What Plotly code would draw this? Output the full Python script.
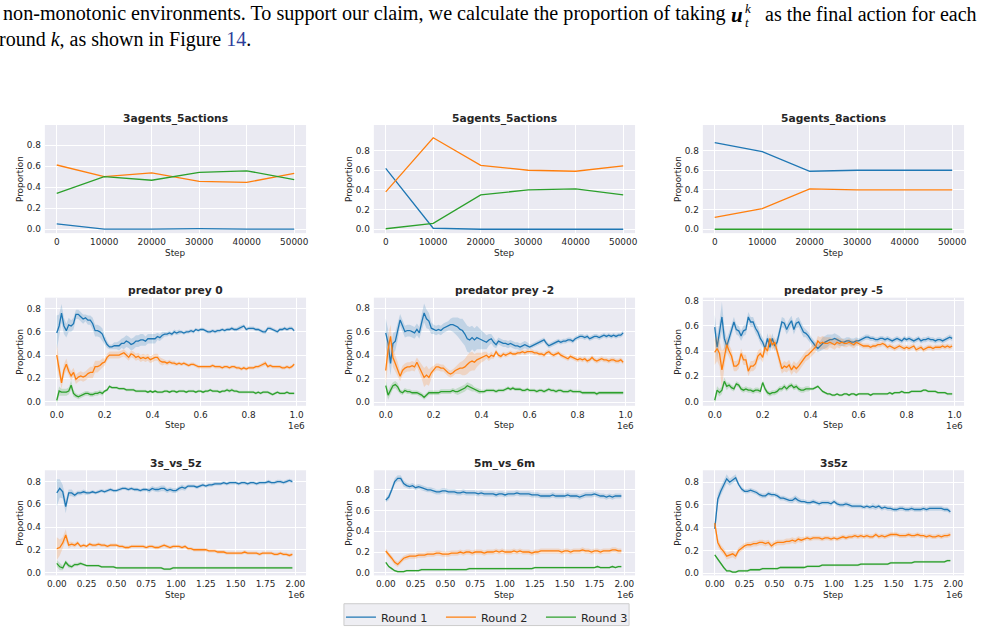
import plotly.graph_objects as go

# ---------------- data ----------------
matrix_steps = [0, 10000, 20000, 30000, 40000, 50000]
a3_r1 = [0.05, 0.00, 0.00, 0.005, 0.00, 0.00]
a3_r2 = [0.61, 0.50, 0.535, 0.455, 0.445, 0.53]
a3_r3 = [0.34, 0.50, 0.465, 0.54, 0.555, 0.47]

a55_r1 = [0.62, 0.01, 0.00, 0.00, 0.00, 0.00]
a55_r2 = [0.38, 0.93, 0.65, 0.60, 0.59, 0.645]
a55_r3 = [0.005, 0.06, 0.35, 0.40, 0.41, 0.35]

a58_r1 = [0.88, 0.79, 0.59, 0.60, 0.60, 0.60]
a58_r2 = [0.12, 0.21, 0.41, 0.40, 0.40, 0.40]
a58_r3 = [0.00, 0.00, 0.00, 0.00, 0.00, 0.00]

pp_steps = [i * 10000 for i in range(100)]

pp0_r1 = [0.59,0.65,0.76,0.65,0.61,0.66,0.65,0.67,0.75,0.75,
          0.73,0.71,0.72,0.70,0.70,0.67,0.61,0.61,0.60,0.58,
          0.53,0.49,0.47,0.47,0.48,0.48,0.48,0.50,0.50,0.52,
          0.51,0.49,0.50,0.52,0.52,0.53,0.53,0.52,0.54,0.54,
          0.54,0.54,0.56,0.55,0.57,0.58,0.58,0.59,0.58,0.60,
          0.59,0.60,0.60,0.59,0.60,0.60,0.61,0.60,0.62,0.61,
          0.62,0.62,0.61,0.60,0.60,0.61,0.60,0.61,0.61,0.62,
          0.61,0.62,0.62,0.63,0.62,0.62,0.63,0.64,0.65,0.62,
          0.63,0.63,0.63,0.62,0.62,0.61,0.60,0.60,0.63,0.63,
          0.62,0.61,0.60,0.62,0.62,0.63,0.62,0.63,0.63,0.61]
pp0_r1_hw = [0.15,0.10,0.08,0.07,0.06,0.06,0.05,0.05,0.04,0.04,
             0.04,0.04,0.03,0.04,0.04,0.05,0.05,0.05,0.05,0.05,
             0.04,0.03,0.02,0.02,0.03,0.03,0.04,0.04,0.05,0.05,
             0.05,0.05,0.05,0.05,0.05,0.05,0.05,0.04,0.04,0.04,
             0.04,0.04,0.03,0.03,0.03,0.02,0.02,0.02,0.02,0.02,
             0.02,0.02,0.015,0.015,0.015,0.015,0.015,0.015,0.015,0.015,
             0.015,0.015,0.015,0.015,0.015,0.015,0.015,0.015,0.015,0.015,
             0.015,0.015,0.015,0.015,0.015,0.015,0.02,0.02,0.015,0.015,
             0.015,0.015,0.015,0.015,0.015,0.015,0.015,0.02,0.015,0.015,
             0.015,0.015,0.015,0.015,0.015,0.015,0.015,0.015,0.015,0.015]
pp0_r2 = [0.40,0.28,0.16,0.27,0.32,0.26,0.22,0.25,0.19,0.21,
          0.22,0.21,0.22,0.24,0.25,0.25,0.30,0.30,0.31,0.33,
          0.34,0.38,0.40,0.40,0.40,0.40,0.40,0.41,0.42,0.40,
          0.38,0.41,0.40,0.38,0.39,0.37,0.38,0.37,0.38,0.36,
          0.37,0.38,0.38,0.35,0.34,0.34,0.33,0.34,0.33,0.33,
          0.32,0.33,0.32,0.33,0.32,0.31,0.32,0.32,0.31,0.30,
          0.30,0.30,0.30,0.30,0.30,0.31,0.30,0.30,0.30,0.29,
          0.30,0.30,0.29,0.30,0.30,0.29,0.29,0.28,0.29,0.28,
          0.29,0.29,0.29,0.30,0.30,0.31,0.32,0.33,0.30,0.31,
          0.30,0.30,0.30,0.30,0.29,0.29,0.30,0.29,0.30,0.32]
pp0_r2_hw = [0.10,0.07,0.05,0.05,0.05,0.04,0.04,0.04,0.04,0.04,
             0.04,0.04,0.04,0.04,0.05,0.05,0.05,0.05,0.04,0.04,
             0.03,0.03,0.03,0.03,0.03,0.03,0.03,0.03,0.03,0.03,
             0.03,0.03,0.03,0.03,0.03,0.03,0.03,0.03,0.03,0.03,
             0.03,0.03,0.03,0.03,0.03,0.02,0.02,0.02,0.02,0.02,
             0.015,0.015,0.015,0.015,0.015,0.015,0.015,0.015,0.015,0.015,
             0.015,0.015,0.015,0.015,0.015,0.015,0.015,0.015,0.015,0.015,
             0.015,0.015,0.015,0.015,0.015,0.015,0.015,0.015,0.015,0.015,
             0.015,0.015,0.015,0.015,0.015,0.015,0.02,0.02,0.015,0.015,
             0.015,0.015,0.015,0.015,0.015,0.015,0.015,0.015,0.015,0.015]
pp0_r3 = [0.01,0.09,0.08,0.08,0.08,0.09,0.14,0.07,0.05,0.04,
          0.05,0.06,0.07,0.07,0.06,0.06,0.07,0.07,0.08,0.07,
          0.09,0.10,0.13,0.12,0.12,0.12,0.11,0.11,0.11,0.10,
          0.10,0.10,0.10,0.09,0.09,0.09,0.09,0.09,0.08,0.09,
          0.08,0.09,0.08,0.08,0.08,0.09,0.09,0.08,0.09,0.09,
          0.08,0.09,0.09,0.09,0.08,0.09,0.09,0.09,0.08,0.09,
          0.09,0.08,0.09,0.09,0.10,0.09,0.09,0.09,0.08,0.09,
          0.09,0.10,0.09,0.10,0.09,0.09,0.08,0.08,0.08,0.08,
          0.08,0.08,0.08,0.07,0.08,0.07,0.08,0.08,0.08,0.07,
          0.06,0.07,0.08,0.07,0.07,0.07,0.08,0.07,0.07,0.07]
pp0_r3_hw = [0.03,0.04,0.03,0.03,0.03,0.03,0.04,0.03,0.02,0.02,
             0.02,0.02,0.02,0.02,0.02,0.02,0.02,0.02,0.02,0.02,
             0.012,0.012,0.012,0.012,0.012,0.012,0.012,0.012,0.012,0.012,
             0.012,0.012,0.012,0.012,0.012,0.012,0.012,0.012,0.012,0.012,
             0.012,0.012,0.012,0.012,0.012,0.012,0.012,0.012,0.012,0.012,
             0.012,0.012,0.012,0.012,0.012,0.012,0.012,0.012,0.012,0.012,
             0.012,0.012,0.012,0.012,0.012,0.012,0.012,0.012,0.012,0.012,
             0.012,0.015,0.015,0.015,0.012,0.012,0.012,0.012,0.012,0.012,
             0.012,0.012,0.012,0.012,0.012,0.012,0.012,0.012,0.012,0.012,
             0.012,0.012,0.012,0.012,0.012,0.012,0.012,0.012,0.012,0.012]

pp2_r1 = [0.59,0.50,0.33,0.50,0.52,0.60,0.70,0.65,0.60,0.61,
          0.61,0.60,0.59,0.62,0.59,0.68,0.76,0.71,0.69,0.63,
          0.62,0.61,0.62,0.61,0.63,0.64,0.65,0.66,0.66,0.65,
          0.64,0.62,0.61,0.58,0.54,0.53,0.55,0.53,0.55,0.54,
          0.53,0.52,0.51,0.53,0.54,0.51,0.49,0.52,0.51,0.50,
          0.50,0.49,0.50,0.49,0.48,0.48,0.47,0.48,0.49,0.48,
          0.47,0.48,0.49,0.50,0.51,0.52,0.53,0.50,0.48,0.49,
          0.50,0.51,0.52,0.51,0.52,0.52,0.53,0.53,0.52,0.54,
          0.55,0.56,0.56,0.55,0.56,0.54,0.55,0.56,0.56,0.55,
          0.56,0.57,0.56,0.57,0.56,0.57,0.56,0.57,0.57,0.59]
pp2_r1_hw = [0.12,0.12,0.10,0.09,0.08,0.07,0.05,0.05,0.05,0.05,
             0.05,0.05,0.05,0.05,0.05,0.07,0.08,0.08,0.07,0.05,
             0.04,0.04,0.04,0.04,0.04,0.04,0.04,0.05,0.06,0.07,
             0.08,0.09,0.10,0.10,0.11,0.11,0.10,0.10,0.10,0.09,
             0.08,0.07,0.06,0.05,0.04,0.04,0.03,0.03,0.03,0.03,
             0.03,0.03,0.03,0.03,0.03,0.03,0.03,0.03,0.03,0.03,
             0.02,0.02,0.02,0.02,0.02,0.02,0.02,0.02,0.02,0.02,
             0.02,0.02,0.02,0.02,0.02,0.02,0.02,0.02,0.02,0.02,
             0.02,0.02,0.02,0.02,0.02,0.02,0.02,0.02,0.02,0.02,
             0.02,0.02,0.02,0.02,0.02,0.02,0.02,0.02,0.02,0.02]
pp2_r2 = [0.27,0.45,0.56,0.38,0.33,0.28,0.22,0.27,0.29,0.30,
          0.30,0.31,0.30,0.34,0.30,0.26,0.21,0.23,0.21,0.25,
          0.28,0.30,0.30,0.29,0.29,0.27,0.25,0.24,0.25,0.27,
          0.28,0.29,0.29,0.30,0.32,0.34,0.35,0.34,0.36,0.37,
          0.38,0.39,0.40,0.38,0.40,0.39,0.43,0.40,0.39,0.41,
          0.40,0.41,0.42,0.41,0.41,0.42,0.42,0.43,0.42,0.43,
          0.43,0.43,0.42,0.42,0.41,0.41,0.40,0.42,0.43,0.41,
          0.40,0.41,0.42,0.40,0.39,0.38,0.37,0.39,0.38,0.37,
          0.36,0.37,0.36,0.37,0.35,0.36,0.38,0.36,0.35,0.36,
          0.37,0.36,0.36,0.35,0.36,0.36,0.35,0.35,0.36,0.34]
pp2_r2_hw = [0.12,0.12,0.10,0.08,0.07,0.06,0.04,0.04,0.04,0.04,
             0.04,0.04,0.04,0.04,0.05,0.06,0.08,0.08,0.07,0.05,
             0.03,0.03,0.03,0.03,0.03,0.03,0.03,0.03,0.03,0.03,
             0.04,0.05,0.06,0.07,0.08,0.08,0.08,0.07,0.06,0.05,
             0.04,0.04,0.03,0.03,0.03,0.02,0.02,0.02,0.02,0.02,
             0.02,0.02,0.02,0.02,0.02,0.02,0.02,0.02,0.02,0.02,
             0.02,0.02,0.02,0.02,0.02,0.02,0.02,0.02,0.02,0.02,
             0.02,0.02,0.02,0.02,0.02,0.02,0.02,0.02,0.02,0.02,
             0.02,0.02,0.02,0.02,0.02,0.02,0.02,0.02,0.02,0.02,
             0.02,0.02,0.02,0.02,0.02,0.02,0.02,0.02,0.02,0.02]
pp2_r3 = [0.14,0.06,0.10,0.14,0.15,0.13,0.09,0.08,0.10,0.09,
          0.09,0.08,0.08,0.08,0.07,0.06,0.04,0.06,0.08,0.08,
          0.08,0.08,0.08,0.09,0.09,0.09,0.09,0.09,0.10,0.09,
          0.09,0.10,0.11,0.12,0.14,0.13,0.12,0.11,0.10,0.09,
          0.09,0.09,0.10,0.10,0.10,0.10,0.09,0.10,0.10,0.10,
          0.11,0.12,0.11,0.12,0.11,0.11,0.11,0.10,0.10,0.11,
          0.10,0.10,0.10,0.09,0.10,0.10,0.09,0.10,0.11,0.10,
          0.10,0.09,0.10,0.10,0.09,0.09,0.09,0.10,0.09,0.09,
          0.09,0.09,0.08,0.08,0.08,0.08,0.08,0.08,0.07,0.08,
          0.08,0.08,0.08,0.08,0.08,0.08,0.08,0.08,0.08,0.08]
pp2_r3_hw = [0.05,0.04,0.04,0.03,0.03,0.03,0.02,0.02,0.02,0.02,
             0.02,0.02,0.02,0.02,0.02,0.02,0.02,0.02,0.02,0.02,
             0.02,0.02,0.02,0.02,0.02,0.02,0.02,0.02,0.02,0.02,
             0.03,0.03,0.03,0.03,0.03,0.03,0.03,0.02,0.02,0.02,
             0.015,0.015,0.015,0.015,0.015,0.015,0.015,0.015,0.015,0.015,
             0.015,0.015,0.015,0.015,0.015,0.015,0.015,0.015,0.015,0.015,
             0.015,0.015,0.015,0.015,0.015,0.015,0.015,0.015,0.015,0.015,
             0.015,0.015,0.015,0.015,0.015,0.015,0.015,0.015,0.015,0.015,
             0.015,0.015,0.015,0.015,0.015,0.015,0.015,0.015,0.015,0.015,
             0.015,0.015,0.015,0.015,0.015,0.015,0.015,0.015,0.015,0.015]

pp5_r1 = [0.59,0.43,0.55,0.67,0.50,0.44,0.50,0.57,0.63,0.57,
          0.56,0.52,0.56,0.57,0.67,0.63,0.63,0.58,0.55,0.50,
          0.47,0.42,0.50,0.43,0.50,0.44,0.47,0.55,0.63,0.62,
          0.57,0.61,0.64,0.57,0.62,0.63,0.59,0.55,0.54,0.52,
          0.49,0.46,0.44,0.42,0.44,0.46,0.47,0.48,0.49,0.49,
          0.50,0.49,0.48,0.47,0.47,0.48,0.48,0.47,0.47,0.48,
          0.48,0.49,0.50,0.51,0.51,0.50,0.50,0.49,0.49,0.50,
          0.50,0.49,0.50,0.49,0.48,0.49,0.50,0.49,0.48,0.50,
          0.49,0.50,0.49,0.48,0.49,0.50,0.48,0.49,0.49,0.50,
          0.49,0.49,0.48,0.49,0.49,0.48,0.49,0.50,0.51,0.50]
pp5_r1_hw = [0.10,0.10,0.08,0.12,0.08,0.06,0.05,0.05,0.04,0.04,
             0.04,0.04,0.04,0.04,0.04,0.04,0.04,0.04,0.04,0.04,
             0.04,0.04,0.04,0.04,0.04,0.04,0.04,0.04,0.04,0.04,
             0.04,0.04,0.04,0.04,0.04,0.04,0.04,0.04,0.03,0.03,
             0.03,0.03,0.03,0.03,0.04,0.05,0.05,0.05,0.04,0.04,
             0.04,0.04,0.04,0.03,0.03,0.03,0.03,0.03,0.03,0.03,
             0.02,0.02,0.02,0.02,0.02,0.02,0.02,0.02,0.02,0.02,
             0.02,0.02,0.02,0.02,0.02,0.02,0.02,0.02,0.02,0.02,
             0.02,0.02,0.02,0.02,0.02,0.02,0.02,0.02,0.02,0.02,
             0.02,0.02,0.02,0.02,0.02,0.02,0.02,0.02,0.02,0.02]
pp5_r2 = [0.39,0.42,0.38,0.25,0.35,0.45,0.40,0.36,0.28,0.28,
          0.30,0.38,0.33,0.33,0.24,0.28,0.28,0.30,0.36,0.38,
          0.35,0.43,0.40,0.50,0.45,0.47,0.40,0.32,0.26,0.28,
          0.27,0.29,0.25,0.28,0.26,0.28,0.31,0.33,0.36,0.37,
          0.39,0.41,0.43,0.48,0.46,0.47,0.46,0.46,0.47,0.46,
          0.45,0.47,0.46,0.47,0.46,0.46,0.47,0.46,0.45,0.47,
          0.46,0.45,0.44,0.44,0.44,0.43,0.44,0.44,0.45,0.45,
          0.46,0.45,0.43,0.44,0.43,0.42,0.43,0.44,0.43,0.42,
          0.43,0.42,0.43,0.44,0.41,0.42,0.43,0.41,0.42,0.43,
          0.43,0.42,0.43,0.43,0.43,0.44,0.43,0.44,0.43,0.44]
pp5_r2_hw = [0.10,0.10,0.10,0.15,0.08,0.06,0.05,0.05,0.04,0.04,
             0.04,0.04,0.04,0.04,0.04,0.04,0.04,0.04,0.04,0.04,
             0.04,0.04,0.04,0.04,0.04,0.04,0.04,0.04,0.04,0.04,
             0.04,0.04,0.04,0.04,0.04,0.04,0.04,0.04,0.04,0.04,
             0.04,0.04,0.04,0.04,0.05,0.05,0.05,0.05,0.04,0.04,
             0.04,0.04,0.04,0.03,0.03,0.03,0.03,0.03,0.03,0.03,
             0.02,0.02,0.02,0.02,0.02,0.02,0.02,0.02,0.02,0.02,
             0.02,0.02,0.02,0.02,0.02,0.02,0.02,0.02,0.02,0.02,
             0.02,0.02,0.02,0.02,0.02,0.02,0.02,0.02,0.02,0.02,
             0.02,0.02,0.02,0.02,0.02,0.02,0.02,0.02,0.02,0.02]
pp5_r3 = [0.01,0.09,0.07,0.09,0.16,0.12,0.13,0.11,0.10,0.14,
          0.13,0.10,0.09,0.10,0.09,0.09,0.08,0.09,0.09,0.08,
          0.15,0.10,0.07,0.06,0.07,0.07,0.08,0.10,0.10,0.12,
          0.10,0.12,0.13,0.11,0.12,0.10,0.09,0.09,0.10,0.10,
          0.10,0.10,0.11,0.12,0.10,0.08,0.07,0.06,0.06,0.05,
          0.05,0.06,0.05,0.05,0.06,0.06,0.05,0.06,0.06,0.05,
          0.06,0.06,0.06,0.06,0.06,0.05,0.06,0.06,0.06,0.06,
          0.06,0.06,0.06,0.07,0.06,0.07,0.07,0.07,0.08,0.07,
          0.07,0.07,0.08,0.08,0.08,0.08,0.08,0.09,0.09,0.08,
          0.08,0.08,0.08,0.07,0.07,0.07,0.07,0.06,0.06,0.06]
pp5_r3_hw = [0.03,0.03,0.03,0.03,0.03,0.03,0.02,0.02,0.02,0.02,
             0.02,0.02,0.02,0.02,0.02,0.02,0.02,0.02,0.02,0.02,
             0.02,0.02,0.02,0.02,0.02,0.02,0.02,0.02,0.02,0.02,
             0.02,0.02,0.02,0.02,0.02,0.02,0.02,0.02,0.02,0.02,
             0.01,0.01,0.01,0.01,0.01,0.01,0.01,0.01,0.01,0.01,
             0.01,0.01,0.01,0.01,0.01,0.01,0.01,0.01,0.01,0.01,
             0.01,0.01,0.01,0.01,0.01,0.01,0.01,0.01,0.01,0.01,
             0.01,0.01,0.01,0.01,0.01,0.01,0.01,0.01,0.01,0.01,
             0.01,0.01,0.01,0.01,0.01,0.01,0.01,0.01,0.01,0.01,
             0.01,0.01,0.01,0.01,0.01,0.01,0.01,0.01,0.01,0.01]

smac_steps = [i * 25000 for i in range(80)]

s35_r1 = [0.70,0.74,0.71,0.58,0.70,0.70,0.68,0.70,0.70,0.71,
          0.70,0.70,0.71,0.70,0.71,0.72,0.71,0.72,0.73,0.72,
          0.72,0.73,0.74,0.74,0.73,0.74,0.73,0.73,0.72,0.73,
          0.73,0.72,0.74,0.73,0.73,0.74,0.74,0.72,0.73,0.72,
          0.72,0.74,0.75,0.74,0.76,0.76,0.76,0.75,0.76,0.77,
          0.76,0.77,0.77,0.78,0.78,0.78,0.79,0.78,0.79,0.79,
          0.79,0.78,0.79,0.79,0.78,0.79,0.79,0.78,0.79,0.79,
          0.79,0.80,0.79,0.79,0.80,0.80,0.79,0.80,0.81,0.80]
s35_r1_hw = [0.12,0.08,0.06,0.06,0.03,0.03,0.02,0.02,0.02,0.02,
             0.02,0.015,0.015,0.015,0.015,0.015,0.015,0.015,0.015,0.015,
             0.015,0.015,0.015,0.015,0.015,0.015,0.015,0.015,0.015,0.015,
             0.015,0.02,0.02,0.02,0.025,0.025,0.025,0.02,0.02,0.02,
             0.02,0.02,0.025,0.02,0.015,0.015,0.015,0.015,0.015,0.015,
             0.015,0.015,0.015,0.015,0.015,0.015,0.015,0.015,0.015,0.015,
             0.015,0.015,0.015,0.015,0.015,0.015,0.015,0.015,0.015,0.015,
             0.015,0.015,0.015,0.015,0.015,0.015,0.015,0.015,0.015,0.015]
s35_r2 = [0.21,0.22,0.26,0.33,0.24,0.25,0.24,0.26,0.23,0.24,
          0.23,0.25,0.24,0.24,0.25,0.24,0.24,0.23,0.24,0.24,
          0.24,0.23,0.23,0.22,0.22,0.23,0.23,0.23,0.23,0.23,
          0.22,0.23,0.23,0.22,0.22,0.23,0.24,0.23,0.22,0.23,
          0.23,0.23,0.22,0.23,0.21,0.21,0.20,0.20,0.20,0.20,
          0.20,0.19,0.19,0.19,0.18,0.18,0.18,0.17,0.17,0.17,
          0.17,0.17,0.17,0.18,0.17,0.17,0.17,0.17,0.16,0.17,
          0.17,0.17,0.17,0.16,0.16,0.17,0.16,0.16,0.15,0.16]
s35_r2_hw = [0.10,0.07,0.05,0.05,0.03,0.02,0.02,0.02,0.015,0.015,
             0.015,0.015,0.015,0.015,0.015,0.015,0.015,0.015,0.015,0.015,
             0.015,0.015,0.015,0.015,0.015,0.015,0.015,0.015,0.015,0.015,
             0.015,0.015,0.015,0.015,0.015,0.015,0.015,0.015,0.015,0.015,
             0.015,0.015,0.015,0.015,0.015,0.015,0.015,0.015,0.015,0.015,
             0.015,0.015,0.015,0.015,0.015,0.015,0.015,0.015,0.015,0.015,
             0.015,0.015,0.015,0.015,0.015,0.015,0.015,0.015,0.015,0.015,
             0.015,0.015,0.015,0.015,0.015,0.015,0.015,0.015,0.015,0.015]
s35_r3 = [0.08,0.05,0.04,0.09,0.06,0.05,0.07,0.07,0.08,0.07,
          0.06,0.06,0.06,0.06,0.06,0.05,0.05,0.05,0.05,0.05,
          0.04,0.04,0.04,0.04,0.04,0.04,0.04,0.04,0.04,0.04,
          0.04,0.04,0.04,0.04,0.04,0.04,0.03,0.03,0.03,0.04,
          0.04,0.04,0.04,0.04,0.04,0.04,0.04,0.04,0.04,0.04,
          0.04,0.04,0.04,0.04,0.04,0.04,0.04,0.04,0.04,0.04,
          0.04,0.04,0.04,0.04,0.04,0.04,0.04,0.04,0.04,0.04,
          0.04,0.04,0.04,0.04,0.04,0.04,0.04,0.04,0.04,0.04]
s35_r3_hw = [0.03,0.03,0.02,0.02,0.02,0.015,0.015,0.015,0.015,0.01,
             0.01,0.01,0.01,0.01,0.01,0.01,0.01,0.01,0.01,0.01,
             0.01,0.01,0.01,0.01,0.01,0.01,0.01,0.01,0.01,0.01,
             0.01,0.01,0.01,0.01,0.01,0.01,0.01,0.01,0.01,0.01,
             0.01,0.01,0.01,0.01,0.01,0.01,0.01,0.01,0.01,0.01,
             0.01,0.01,0.01,0.01,0.01,0.01,0.01,0.01,0.01,0.01,
             0.01,0.01,0.01,0.01,0.01,0.01,0.01,0.01,0.01,0.01,
             0.01,0.01,0.01,0.01,0.01,0.01,0.01,0.01,0.01,0.01]

m56_r1 = [0.70,0.73,0.80,0.88,0.91,0.91,0.86,0.84,0.83,0.84,
          0.82,0.83,0.82,0.81,0.80,0.80,0.79,0.78,0.78,0.79,
          0.79,0.78,0.78,0.78,0.77,0.77,0.78,0.77,0.77,0.77,
          0.77,0.76,0.77,0.76,0.76,0.76,0.76,0.75,0.76,0.76,
          0.75,0.76,0.76,0.76,0.77,0.76,0.76,0.76,0.76,0.75,
          0.75,0.75,0.74,0.74,0.74,0.74,0.75,0.74,0.74,0.74,
          0.74,0.75,0.74,0.74,0.74,0.73,0.74,0.75,0.75,0.75,
          0.76,0.75,0.74,0.74,0.73,0.74,0.73,0.74,0.74,0.74]
m56_r1_hw = [0.02,0.03,0.03,0.03,0.03,0.03,0.03,0.025,0.025,0.025,
             0.025,0.025,0.025,0.025,0.025,0.025,0.025,0.025,0.025,0.025,
             0.025,0.025,0.025,0.025,0.025,0.025,0.025,0.025,0.025,0.025,
             0.025,0.025,0.025,0.025,0.025,0.025,0.025,0.025,0.025,0.025,
             0.025,0.025,0.025,0.025,0.025,0.025,0.025,0.025,0.025,0.025,
             0.025,0.025,0.025,0.025,0.025,0.025,0.025,0.025,0.025,0.025,
             0.025,0.025,0.025,0.025,0.025,0.025,0.025,0.025,0.025,0.025,
             0.025,0.025,0.025,0.025,0.025,0.025,0.025,0.025,0.025,0.025]
m56_r2 = [0.21,0.18,0.14,0.10,0.08,0.11,0.14,0.15,0.16,0.16,
          0.16,0.17,0.17,0.17,0.18,0.18,0.18,0.19,0.19,0.18,
          0.18,0.18,0.19,0.19,0.19,0.20,0.19,0.20,0.20,0.19,
          0.20,0.20,0.20,0.19,0.20,0.20,0.20,0.21,0.20,0.21,
          0.20,0.20,0.20,0.21,0.20,0.21,0.20,0.20,0.20,0.19,
          0.20,0.20,0.21,0.21,0.21,0.21,0.21,0.21,0.21,0.20,
          0.21,0.21,0.20,0.21,0.21,0.21,0.22,0.21,0.21,0.20,
          0.21,0.21,0.20,0.21,0.21,0.21,0.22,0.22,0.21,0.21]
m56_r2_hw = [0.025,0.025,0.025,0.025,0.025,0.025,0.025,0.025,0.025,0.025,
             0.025,0.025,0.025,0.025,0.025,0.025,0.025,0.025,0.025,0.025,
             0.025,0.025,0.025,0.025,0.025,0.025,0.025,0.025,0.025,0.025,
             0.025,0.025,0.025,0.025,0.025,0.025,0.025,0.025,0.025,0.025,
             0.025,0.025,0.025,0.025,0.025,0.025,0.025,0.025,0.025,0.025,
             0.025,0.025,0.025,0.025,0.025,0.025,0.025,0.025,0.025,0.025,
             0.025,0.025,0.025,0.025,0.025,0.025,0.025,0.025,0.025,0.025,
             0.025,0.025,0.025,0.025,0.025,0.025,0.025,0.025,0.025,0.025]
m56_r3 = [0.10,0.06,0.04,0.02,0.01,0.01,0.01,0.02,0.02,0.02,
          0.02,0.02,0.03,0.03,0.03,0.03,0.03,0.03,0.03,0.03,
          0.03,0.03,0.03,0.03,0.03,0.03,0.03,0.03,0.04,0.04,
          0.04,0.04,0.04,0.04,0.04,0.04,0.04,0.04,0.04,0.04,
          0.04,0.04,0.04,0.04,0.04,0.04,0.04,0.04,0.04,0.04,
          0.05,0.05,0.05,0.05,0.05,0.05,0.05,0.05,0.05,0.05,
          0.05,0.05,0.05,0.05,0.05,0.05,0.05,0.05,0.05,0.05,
          0.05,0.06,0.05,0.05,0.05,0.05,0.06,0.05,0.06,0.06]
m56_r3_hw = [0.01,0.01,0.01,0.01,0.01,0.01,0.01,0.01,0.01,0.01,
             0.01,0.01,0.01,0.01,0.01,0.01,0.01,0.01,0.01,0.01,
             0.01,0.01,0.01,0.01,0.01,0.01,0.01,0.01,0.01,0.01,
             0.01,0.01,0.01,0.01,0.01,0.01,0.01,0.01,0.01,0.01,
             0.01,0.01,0.01,0.01,0.01,0.01,0.01,0.01,0.01,0.01,
             0.01,0.01,0.01,0.01,0.01,0.01,0.01,0.01,0.01,0.01,
             0.01,0.01,0.01,0.01,0.01,0.01,0.01,0.01,0.01,0.01,
             0.01,0.01,0.01,0.01,0.01,0.01,0.01,0.01,0.01,0.01]

s3s5z_r1 = [0.39,0.65,0.72,0.78,0.83,0.80,0.82,0.84,0.78,0.74,
            0.72,0.72,0.73,0.72,0.71,0.69,0.68,0.68,0.70,0.69,
            0.69,0.68,0.66,0.66,0.65,0.64,0.64,0.66,0.64,0.63,
            0.63,0.62,0.62,0.63,0.62,0.61,0.62,0.62,0.62,0.61,
            0.63,0.61,0.60,0.60,0.61,0.60,0.59,0.59,0.59,0.59,
            0.58,0.59,0.58,0.59,0.58,0.59,0.57,0.58,0.57,0.57,
            0.56,0.56,0.57,0.57,0.56,0.56,0.57,0.56,0.56,0.56,
            0.57,0.56,0.57,0.57,0.57,0.57,0.57,0.56,0.56,0.54]
s3s5z_r1_hw = [0.05,0.05,0.04,0.04,0.04,0.03,0.03,0.03,0.02,0.02,
               0.02,0.02,0.02,0.02,0.02,0.02,0.02,0.02,0.02,0.02,
               0.02,0.02,0.02,0.02,0.02,0.02,0.025,0.025,0.025,0.02,
               0.02,0.02,0.02,0.02,0.02,0.02,0.02,0.02,0.02,0.02,
               0.02,0.02,0.02,0.02,0.02,0.02,0.02,0.02,0.02,0.02,
               0.02,0.02,0.02,0.025,0.025,0.02,0.02,0.02,0.02,0.02,
               0.02,0.02,0.02,0.02,0.02,0.02,0.02,0.02,0.02,0.02,
               0.02,0.02,0.02,0.02,0.02,0.02,0.02,0.02,0.02,0.02]
s3s5z_r2 = [0.44,0.27,0.22,0.19,0.15,0.16,0.17,0.15,0.20,0.22,
            0.24,0.25,0.25,0.26,0.26,0.27,0.27,0.26,0.27,0.24,
            0.26,0.27,0.27,0.27,0.28,0.28,0.29,0.28,0.30,0.29,
            0.30,0.31,0.30,0.31,0.31,0.31,0.30,0.31,0.31,0.30,
            0.31,0.30,0.31,0.32,0.31,0.32,0.32,0.33,0.32,0.33,
            0.32,0.33,0.32,0.32,0.34,0.32,0.33,0.32,0.33,0.34,
            0.34,0.34,0.33,0.33,0.33,0.34,0.33,0.33,0.34,0.33,
            0.33,0.32,0.33,0.32,0.32,0.33,0.32,0.33,0.33,0.34]
s3s5z_r2_hw = [0.04,0.04,0.03,0.03,0.03,0.03,0.03,0.03,0.025,0.025,
               0.025,0.025,0.025,0.025,0.025,0.025,0.025,0.025,0.025,0.025,
               0.025,0.025,0.025,0.025,0.025,0.025,0.025,0.025,0.025,0.025,
               0.02,0.02,0.02,0.02,0.02,0.02,0.02,0.02,0.02,0.02,
               0.02,0.02,0.02,0.02,0.02,0.02,0.02,0.02,0.02,0.02,
               0.02,0.02,0.02,0.02,0.02,0.02,0.02,0.02,0.02,0.02,
               0.02,0.02,0.02,0.02,0.02,0.02,0.02,0.02,0.02,0.02,
               0.02,0.02,0.02,0.02,0.02,0.02,0.02,0.02,0.02,0.02]
s3s5z_r3 = [0.16,0.12,0.08,0.05,0.02,0.02,0.01,0.01,0.02,0.02,
            0.02,0.02,0.03,0.03,0.03,0.03,0.04,0.04,0.04,0.04,
            0.04,0.04,0.05,0.05,0.05,0.05,0.05,0.05,0.05,0.05,
            0.05,0.06,0.06,0.06,0.06,0.06,0.07,0.07,0.07,0.07,
            0.07,0.07,0.07,0.07,0.07,0.07,0.07,0.07,0.07,0.08,
            0.08,0.08,0.08,0.08,0.08,0.08,0.08,0.08,0.08,0.09,
            0.09,0.09,0.09,0.09,0.09,0.09,0.09,0.10,0.10,0.10,
            0.10,0.10,0.10,0.10,0.10,0.10,0.10,0.10,0.11,0.11]
s3s5z_r3_hw = [0.01,0.01,0.01,0.01,0.01,0.01,0.01,0.01,0.01,0.01,
               0.01,0.01,0.01,0.01,0.01,0.01,0.01,0.01,0.01,0.01,
               0.01,0.01,0.01,0.01,0.01,0.01,0.01,0.01,0.01,0.01,
               0.01,0.01,0.01,0.01,0.01,0.01,0.01,0.01,0.01,0.01,
               0.01,0.01,0.01,0.01,0.01,0.01,0.01,0.01,0.01,0.01,
               0.01,0.01,0.01,0.01,0.01,0.01,0.01,0.01,0.01,0.01,
               0.01,0.01,0.01,0.01,0.01,0.01,0.01,0.01,0.01,0.01,
               0.01,0.01,0.01,0.01,0.01,0.01,0.01,0.01,0.01,0.01]

titles = ['3agents_5actions', '5agents_5actions', '5agents_8actions',
          'predator prey 0', 'predator prey -2', 'predator prey -5',
          '3s_vs_5z', '5m_vs_6m', '3s5z']
series_names = ['Round 1', 'Round 2', 'Round 3']

matrix_ticks = [0, 10000, 20000, 30000, 40000, 50000]
matrix_ticktext = ['0', '10000', '20000', '30000', '40000', '50000']
pp_ticks = [0, 200000, 400000, 600000, 800000, 1000000]
pp_ticktext = ['0.0', '0.2', '0.4', '0.6', '0.8', '1.0']
smac_ticks = [0, 250000, 500000, 750000, 1000000, 1250000, 1500000, 1750000, 2000000]
smac_ticktext = ['0.00', '0.25', '0.50', '0.75', '1.00', '1.25', '1.50', '1.75', '2.00']
y_ticks = [0, 0.2, 0.4, 0.6, 0.8]
y_ticktext = ['0.0', '0.2', '0.4', '0.6', '0.8']

# ---------------- style / layout ----------------
W, H = 985, 635
COLORS = ['#1f77b4', '#ff7f0e', '#2ca02c']
FILLS = ['rgba(31,119,180,0.2)', 'rgba(255,127,14,0.2)', 'rgba(44,160,44,0.2)']
FONT = 'DejaVu Sans'
TXT = '#262626'
col_px = [(45, 307), (375, 637), (705, 967)]
row_px = [(124, 233), (298, 407), (472, 578)]

panels = [
    (matrix_steps, [a3_r1, a3_r2, a3_r3], None, [-2500, 52500], [-0.038, 0.99]),
    (matrix_steps, [a55_r1, a55_r2, a55_r3], None, [-2500, 52500], [-0.04, 1.06]),
    (matrix_steps, [a58_r1, a58_r2, a58_r3], None, [-2500, 52500], [-0.04, 1.06]),
    (pp_steps, [pp0_r1, pp0_r2, pp0_r3], [pp0_r1_hw, pp0_r2_hw, pp0_r3_hw], [-49500, 1039500], [-0.037, 0.894]),
    (pp_steps, [pp2_r1, pp2_r2, pp2_r3], [pp2_r1_hw, pp2_r2_hw, pp2_r3_hw], [-49500, 1039500], [-0.031, 0.89]),
    (pp_steps, [pp5_r1, pp5_r2, pp5_r3], [pp5_r1_hw, pp5_r2_hw, pp5_r3_hw], [-49500, 1039500], [-0.034, 0.823]),
    (smac_steps, [s35_r1, s35_r2, s35_r3], [s35_r1_hw, s35_r2_hw, s35_r3_hw], [-100000, 2090000], [-0.026, 0.899]),
    (smac_steps, [m56_r1, m56_r2, m56_r3], [m56_r1_hw, m56_r2_hw, m56_r3_hw], [-100000, 2090000], [-0.026, 0.988]),
    (smac_steps, [s3s5z_r1, s3s5z_r2, s3s5z_r3], [s3s5z_r1_hw, s3s5z_r2_hw, s3s5z_r3_hw], [-100000, 2090000], [-0.02, 0.905]),
]
xticks_by_row = [(matrix_ticks, matrix_ticktext), (pp_ticks, pp_ticktext), (smac_ticks, smac_ticktext)]

fig = go.Figure()
layout = {}
annotations = []

for i, (xs, ys, hws, xr, yr) in enumerate(panels):
    r, c = divmod(i, 3)
    xa = 'x' if i == 0 else f'x{i+1}'
    ya = 'y' if i == 0 else f'y{i+1}'
    for s in range(3):
        yv = ys[s]
        assert len(yv) == len(xs), (i, s, len(yv))
        if hws is not None:
            hw = hws[s]
            assert len(hw) == len(xs), (i, s, 'hw', len(hw))
            up = [a + b for a, b in zip(yv, hw)]
            lo = [a - b for a, b in zip(yv, hw)]
            fig.add_trace(go.Scatter(x=list(xs) + list(xs)[::-1], y=up + lo[::-1],
                                     fill='toself', fillcolor=FILLS[s], mode='lines',
                                     line=dict(width=0), hoverinfo='skip', showlegend=False,
                                     xaxis=xa, yaxis=ya))
        fig.add_trace(go.Scatter(x=xs, y=yv, mode='lines', name=series_names[s],
                                 line=dict(color=COLORS[s], width=1.3),
                                 legendgroup=series_names[s], showlegend=(i == 0),
                                 xaxis=xa, yaxis=ya))
    x0, x1 = col_px[c]
    y0, y1 = row_px[r]
    tv, tt = xticks_by_row[r]
    axcommon = dict(showgrid=True, gridcolor='white', gridwidth=1.1, zeroline=False,
                    showline=False, ticks='',
                    tickfont=dict(family=FONT, size=8.9, color=TXT))
    layout['xaxis' if i == 0 else f'xaxis{i+1}'] = dict(
        domain=[x0 / W, x1 / W], anchor=ya, range=xr, tickvals=tv, ticktext=tt,
        ticklabelstandoff=2, **axcommon)
    layout['yaxis' if i == 0 else f'yaxis{i+1}'] = dict(
        domain=[1 - y1 / H, 1 - y0 / H], anchor=xa, range=yr, tickvals=y_ticks,
        ticktext=y_ticktext, ticklabelstandoff=3, **axcommon)
    cx = (x0 + x1) / 2
    annotations.append(dict(text='<b>' + titles[i] + '</b>', x=cx / W, y=1 - (y0 - 7) / H,
                            xref='paper', yref='paper', xanchor='center', yanchor='middle',
                            showarrow=False, font=dict(family=FONT, size=10.7, color=TXT)))
    annotations.append(dict(text='Step', x=cx / W, y=1 - (y1 + 19.5) / H,
                            xref='paper', yref='paper', xanchor='center', yanchor='middle',
                            showarrow=False, font=dict(family=FONT, size=8.9, color=TXT)))
    annotations.append(dict(text='Proportion', x=(x0 - 25) / W, y=1 - ((y0 + y1) / 2) / H,
                            xref='paper', yref='paper', xanchor='center', yanchor='middle',
                            textangle=-90, showarrow=False,
                            font=dict(family=FONT, size=8.9, color=TXT)))
    if r >= 1:
        annotations.append(dict(text='1e6', x=(x1 + 1) / W, y=1 - (y1 + 20) / H,
                                xref='paper', yref='paper', xanchor='right', yanchor='middle',
                                showarrow=False, font=dict(family=FONT, size=8.9, color=TXT)))

# header paragraph text
SERIF = 'Liberation Serif'
annotations += [
    dict(text='non-monotonic environments. To support our claim, we calculate the proportion of taking',
         x=730 / W, y=1 - 12 / H, xref='paper', yref='paper', xanchor='right', yanchor='middle',
         showarrow=False, font=dict(family=SERIF, size=20.15, color='black')),
    dict(text='<b><i>u</i></b>', x=731 / W, y=1 - 13 / H, xref='paper', yref='paper',
         xanchor='left', yanchor='middle', showarrow=False,
         font=dict(family=SERIF, size=21, color='black')),
    dict(text='<i>k</i>', x=745 / W, y=1 - 7 / H, xref='paper', yref='paper',
         xanchor='left', yanchor='middle', showarrow=False,
         font=dict(family=SERIF, size=13, color='black')),
    dict(text='<i>t</i>', x=745 / W, y=1 - 21 / H, xref='paper', yref='paper',
         xanchor='left', yanchor='middle', showarrow=False,
         font=dict(family=SERIF, size=13, color='black')),
    dict(text='as the final action for each', x=765 / W, y=1 - 12 / H, xref='paper', yref='paper',
         xanchor='left', yanchor='middle', showarrow=False,
         font=dict(family=SERIF, size=20, color='black')),
    dict(text="round <i>k</i>, as shown in Figure <span style='color:#2d3e9a'>14</span>.",
         x=-3 / W, y=1 - 38 / H, xref='paper', yref='paper', xanchor='left', yanchor='middle',
         showarrow=False, font=dict(family=SERIF, size=20, color='black')),
]

# legend frame (matplotlib-style box) behind the plotly legend entries
shapes = [dict(type='rect', xref='paper', yref='paper', x0=345 / W, x1=631 / W,
               y0=1 - 628.5 / H, y1=1 - 606.5 / H, fillcolor='#EEEEF3',
               line=dict(color='#CCCCCC', width=1), layer='above')]

fig.update_layout(
    width=W, height=H, margin=dict(l=0, r=0, t=0, b=0),
    paper_bgcolor='white', plot_bgcolor='#EAEAF2',
    annotations=annotations, shapes=shapes,
    legend=dict(orientation='h', x=342 / W, xanchor='left', y=1 - 620 / H, yanchor='middle',
                bgcolor='rgba(0,0,0,0)', borderwidth=0,
                font=dict(family=FONT, size=11.3, color=TXT), entrywidth=55,
                entrywidthmode='pixels', itemwidth=30),
    showlegend=True,
    **layout,
)

fig.write_html('out.html')
